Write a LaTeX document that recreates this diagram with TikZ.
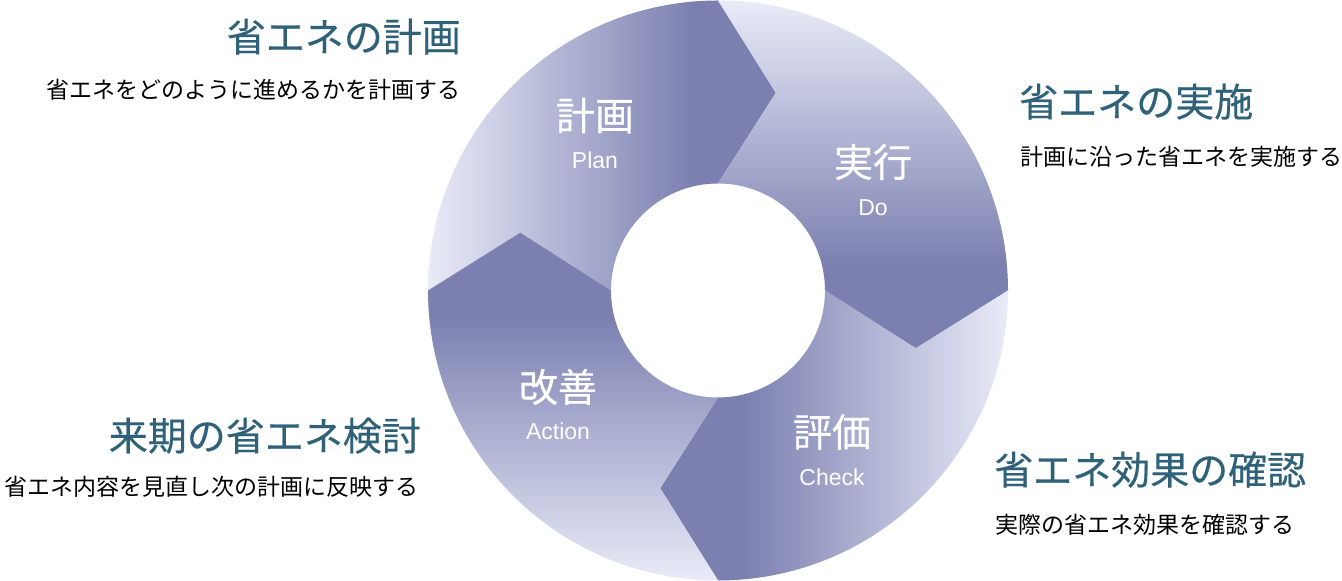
\documentclass[tikz,border=0pt]{standalone}
\usepackage{fontspec}
\newfontfamily\jpfont{Noto Sans CJK JP}
\newfontfamily\jpheadfont[FakeBold=0.4]{Noto Sans CJK JP}
\newfontfamily\latfont{Liberation Sans}
\usetikzlibrary{positioning}
\definecolor{ringdark}{HTML}{7B80B0}
\definecolor{ringlite}{HTML}{E9EBF8}
\definecolor{headblue}{HTML}{2F6279}
\pgfdeclarehorizontalshading{ringshade}{100bp}{color(0bp)=(ringlite); color(25bp)=(ringlite);
  color(63bp)=(ringdark); color(100bp)=(ringdark)}

\begin{document}
\begin{tikzpicture}[x=1bp, y=1bp,
	seg/.style={shading=ringshade},
	head/.style={inner sep=0, text=headblue, font=\jpheadfont\fontsize{39bp}{40bp}\selectfont},
	desc/.style={inner sep=0, text=black, font=\jpfont\fontsize{23bp}{25bp}\selectfont},
	kanji/.style={inner sep=0, text=white, font=\jpheadfont\fontsize{39bp}{40bp}\selectfont},
	latin/.style={inner sep=0, text=white, anchor=base, font=\latfont\fontsize{23bp}{25bp}\selectfont}]
	\useasboundingbox (0,0) rectangle (1342,581);
	% four arrow segments of the ring
	\begin{scope}[shift={(718,290.5)}]
	\foreach \a in {180,90,0,270}{
		\pgfmathsetmacro\s{\a-180}
		\shade[seg, shading angle=\s] (\a:290) arc[start angle=\a, end angle=\a-90, radius=290]
		  -- ({\a-106.3}:206) -- ({\a-90}:107) arc[start angle=\a-90, end angle=\a, radius=107]
		  -- ({\a-16.3}:206) -- cycle;
	}
	\end{scope}
	% labels on the ring
	\node[kanji] (plank) at (595,465.5) {計画};
	\node[latin] (planl) at (595,412) {Plan};
	\node[kanji] (dok) at (873,419) {実行};
	\node[latin] (dol) at (873,365) {Do};
	\node[kanji] (checkk) at (832,149) {評価};
	\node[latin] (checkl) at (832,95.5) {Check};
	\node[kanji] (actk) at (558,194) {改善};
	\node[latin] (actl) at (558,141) {Action};
	% texts round the ring
	\node[head, anchor=base east] (planhead) at (461,529.6) {省エネの計画};
	\node[desc, anchor=base east] (plandesc) at (461,482.3) {省エネをどのように進めるかを計画する};
	\node[head, anchor=base west] (dohead) at (1019,464.6) {省エネの実施};
	\node[desc, anchor=base west] (dodesc) at (1020,415.3) {計画に沿った省エネを実施する};
	\node[head, anchor=base west] (checkhead) at (994,96.6) {省エネ効果の確認};
	\node[desc, anchor=base west] (checkdesc) at (995,47.3) {実際の省エネ効果を確認する};
	\node[head, anchor=base east] (acthead) at (421,130.6) {来期の省エネ検討};
	\node[desc, anchor=base east] (actdesc) at (419,85.3) {省エネ内容を見直し次の計画に反映する};
\end{tikzpicture}
\end{document}
